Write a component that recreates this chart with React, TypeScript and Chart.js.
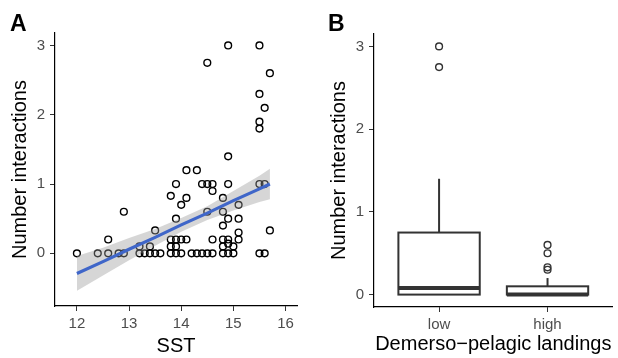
import React, { useEffect, useRef } from "react";
import { Chart, registerables } from "chart.js";

Chart.register(...registerables);

// ---------- Panel A data ----------
const sstValues = [
  14.9, 15.5, 14.5, 15.7, 15.5, 15.6, 15.5, 15.5, 14.9,
  14.1, 14.3,
  13.9, 14.4, 14.5, 14.6, 14.9, 15.5, 15.6,
  14.6, 13.8, 14.1, 14.8, 14.0, 15.1,
  12.9, 14.5, 14.8,
  13.9, 14.9, 15.1,
  14.8, 15.1, 13.5, 15.7,
  12.6, 13.8, 13.9, 14.0, 14.1, 13.8, 13.9,
  14.6, 14.8, 14.9, 15.1, 14.8, 14.9, 15.0,
  13.2, 13.4,
  12.0, 12.4, 12.6, 12.8, 12.9, 13.2, 13.3, 13.4, 13.5, 13.6, 13.8, 13.9,
  14.0, 14.2, 14.3, 14.4, 14.5, 14.6, 14.8, 14.9, 15.0, 15.5, 15.6,
];
const interactionValues = [
  3.0, 3.0, 2.75, 2.6, 2.3, 2.1, 1.9, 1.8, 1.4,
  1.2, 1.2,
  1.0, 1.0, 1.0, 1.0, 1.0, 1.0, 1.0,
  0.9, 0.83, 0.8, 0.8, 0.7, 0.7,
  0.6, 0.6, 0.6,
  0.5, 0.5, 0.5,
  0.4, 0.3, 0.33, 0.33,
  0.2, 0.2, 0.2, 0.2, 0.2, 0.1, 0.1,
  0.2, 0.2, 0.2, 0.2, 0.1, 0.14, 0.1,
  0.1, 0.1,
  0, 0, 0, 0, 0, 0, 0, 0, 0, 0, 0, 0,
  0, 0, 0, 0, 0, 0, 0, 0, 0, 0, 0,
];

const fitSst = [12, 12.5, 13, 13.5, 14, 14.5, 15, 15.5, 15.7];
const fitValues = [-0.29, -0.12, 0.06, 0.23, 0.41, 0.58, 0.76, 0.93, 1.0];
const fitLower = [-0.54, -0.32, -0.1, 0.11, 0.31, 0.48, 0.62, 0.74, 0.78];
const fitUpper = [-0.04, 0.08, 0.22, 0.35, 0.51, 0.68, 0.9, 1.12, 1.22];

const sstTicks = [12, 13, 14, 15, 16];
const interactionTicks = [0, 1, 2, 3];

// ---------- Panel B data ----------
const landingGroups = ["low", "high"];
const boxQ1 = [0, 0];
const boxMedian = [0.08, 0];
const boxQ3 = [0.75, 0.1];
const whiskerLow = [0, 0];
const whiskerHigh = [1.4, 0.2];
const outlierGroup = [0, 0, 1, 1, 1, 1];
const outlierValue = [3.0, 2.75, 0.6, 0.5, 0.33, 0.3];

const FONT = "'Liberation Sans', Arial, Helvetica, sans-serif";
const TICK_COLOR = "#4d4d4d";

function axisCommon(tickLen: number) {
  return {
    grid: {
      display: true,
      drawOnChartArea: false,
      drawTicks: true,
      tickLength: tickLen,
      tickColor: "#333333",
      tickWidth: 1,
    },
    border: { display: true, color: "#000000", width: 1.2 },
  };
}

const boxPlugin = {
  id: "boxplotDraw",
  beforeDatasetsDraw(chart: any) {
    const { ctx } = chart;
    const x = chart.scales.x;
    const y = chart.scales.y;
    const boxWidth = 0.75;
    ctx.save();
    ctx.strokeStyle = "#333333";
    landingGroups.forEach((_, i) => {
      const left = x.getPixelForValue(i - boxWidth / 2);
      const right = x.getPixelForValue(i + boxWidth / 2);
      const cx = x.getPixelForValue(i);
      const yq1 = y.getPixelForValue(boxQ1[i]);
      const yq3 = y.getPixelForValue(boxQ3[i]);
      const ymed = y.getPixelForValue(boxMedian[i]);
      const ywl = y.getPixelForValue(whiskerLow[i]);
      const ywh = y.getPixelForValue(whiskerHigh[i]);
      ctx.lineWidth = 2;
      ctx.beginPath();
      ctx.moveTo(cx, yq3);
      ctx.lineTo(cx, ywh);
      ctx.moveTo(cx, yq1);
      ctx.lineTo(cx, ywl);
      ctx.stroke();
      ctx.fillStyle = "#ffffff";
      ctx.fillRect(left, yq3, right - left, yq1 - yq3);
      ctx.strokeRect(left, yq3, right - left, yq1 - yq3);
      ctx.lineWidth = 4;
      ctx.beginPath();
      ctx.moveTo(left, ymed);
      ctx.lineTo(right, ymed);
      ctx.stroke();
    });
    ctx.restore();
  },
};

function PanelA() {
  const ref = useRef<HTMLCanvasElement>(null);
  useEffect(() => {
    if (!ref.current) return;
    const chart = new Chart(ref.current, {
      type: "scatter",
      data: {
        datasets: [
          {
            type: "scatter",
            data: sstValues.map((v, i) => ({ x: v, y: interactionValues[i] })),
            pointStyle: "circle",
            pointRadius: 3.4,
            pointBorderWidth: 1.4,
            pointBorderColor: "#000000",
            pointBackgroundColor: "rgba(0,0,0,0)",
            order: 3,
          } as any,
          {
            type: "line",
            data: fitSst.map((v, i) => ({ x: v, y: fitLower[i] })),
            borderWidth: 0,
            pointRadius: 0,
            showLine: true,
            fill: false,
            order: 2,
          } as any,
          {
            type: "line",
            data: fitSst.map((v, i) => ({ x: v, y: fitUpper[i] })),
            borderWidth: 0,
            pointRadius: 0,
            showLine: true,
            fill: "-1",
            backgroundColor: "rgba(153,153,153,0.4)",
            order: 2,
          } as any,
          {
            type: "line",
            data: fitSst.map((v, i) => ({ x: v, y: fitValues[i] })),
            borderColor: "#3f66c9",
            borderWidth: 3.2,
            pointRadius: 0,
            showLine: true,
            fill: false,
            order: 1,
          } as any,
        ],
      },
      options: {
        animation: false,
        responsive: false,
        events: [],
        layout: { padding: { left: 0, top: 33, right: 13, bottom: 0 } },
        plugins: { legend: { display: false }, tooltip: { enabled: false } },
        scales: {
          x: {
            type: "linear",
            min: 11.58,
            max: 16.22,
            ...axisCommon(5),
            afterBuildTicks: (s: any) => {
              s.ticks = sstTicks.map((v) => ({ value: v }));
            },
            afterFit: (s: any) => {
              s.height = 52;
            },
            ticks: {
              color: TICK_COLOR,
              font: { family: FONT, size: 15 },
              padding: 4,
              maxRotation: 0,
              autoSkip: false,
            },
            title: {
              display: true,
              text: "SST",
              color: "#000000",
              font: { family: FONT, size: 20 },
              padding: { top: 0, bottom: 0 },
            },
          },
          y: {
            type: "linear",
            min: -0.76,
            max: 3.18,
            ...axisCommon(5),
            afterBuildTicks: (s: any) => {
              s.ticks = interactionTicks.map((v) => ({ value: v }));
            },
            afterFit: (s: any) => {
              s.width = 55;
            },
            ticks: {
              color: TICK_COLOR,
              font: { family: FONT, size: 15 },
              padding: 5,
              autoSkip: false,
            },
            title: {
              display: true,
              text: "Number interactions",
              color: "#000000",
              font: { family: FONT, size: 20 },
              padding: { top: 8, bottom: 0 },
            },
          },
        },
      } as any,
    });
    return () => chart.destroy();
  }, []);
  return (
    <canvas
      ref={ref}
      width={310}
      height={358}
      style={{ position: "absolute", left: 0, top: 0, width: 310, height: 358 }}
    />
  );
}

function PanelB() {
  const ref = useRef<HTMLCanvasElement>(null);
  useEffect(() => {
    if (!ref.current) return;
    const chart = new Chart(ref.current, {
      type: "scatter",
      data: {
        datasets: [
          {
            data: outlierGroup.map((g, i) => ({ x: g, y: outlierValue[i] })),
            pointStyle: "circle",
            pointRadius: 3.4,
            pointBorderWidth: 1.4,
            pointBorderColor: "#333333",
            pointBackgroundColor: "rgba(0,0,0,0)",
          },
        ],
      },
      plugins: [boxPlugin],
      options: {
        animation: false,
        responsive: false,
        events: [],
        layout: { padding: { left: 0, top: 34, right: 3, bottom: 0 } },
        plugins: { legend: { display: false }, tooltip: { enabled: false } },
        scales: {
          x: {
            type: "linear",
            min: -0.6,
            max: 1.6,
            ...axisCommon(5),
            afterBuildTicks: (s: any) => {
              s.ticks = landingGroups.map((_, i) => ({ value: i }));
            },
            afterFit: (s: any) => {
              s.height = 51;
            },
            ticks: {
              color: TICK_COLOR,
              font: { family: FONT, size: 15 },
              padding: 4,
              maxRotation: 0,
              autoSkip: false,
              callback: (v: any) => landingGroups[v] ?? "",
            },
            title: {
              display: true,
              text: "Demerso\u2212pelagic landings",
              color: "#000000",
              font: { family: FONT, size: 20 },
              padding: { top: 0, bottom: 2 },
            },
          },
          y: {
            type: "linear",
            min: -0.15,
            max: 3.15,
            ...axisCommon(5),
            afterBuildTicks: (s: any) => {
              s.ticks = interactionTicks.map((v) => ({ value: v }));
            },
            afterFit: (s: any) => {
              s.width = 64;
            },
            ticks: {
              color: TICK_COLOR,
              font: { family: FONT, size: 15 },
              padding: 5,
              autoSkip: false,
            },
            title: {
              display: true,
              text: "Number interactions",
              color: "#000000",
              font: { family: FONT, size: 20 },
              padding: { top: 17, bottom: 0 },
            },
          },
        },
      } as any,
    });
    return () => chart.destroy();
  }, []);
  return (
    <canvas
      ref={ref}
      width={308}
      height={358}
      style={{ position: "absolute", left: 310, top: 0, width: 308, height: 358 }}
    />
  );
}

const letterStyle: React.CSSProperties = {
  position: "absolute",
  fontFamily: FONT,
  fontWeight: "bold",
  fontSize: 23,
  lineHeight: "23px",
  color: "#000000",
};

export default function App() {
  return (
    <div
      style={{
        position: "fixed",
        left: 0,
        top: 0,
        width: 618,
        height: 358,
        background: "#ffffff",
        overflow: "hidden",
      }}
    >
      <PanelA />
      <PanelB />
      <div style={{ ...letterStyle, left: 10, top: 12 }}>A</div>
      <div style={{ ...letterStyle, left: 328, top: 12 }}>B</div>
    </div>
  );
}
